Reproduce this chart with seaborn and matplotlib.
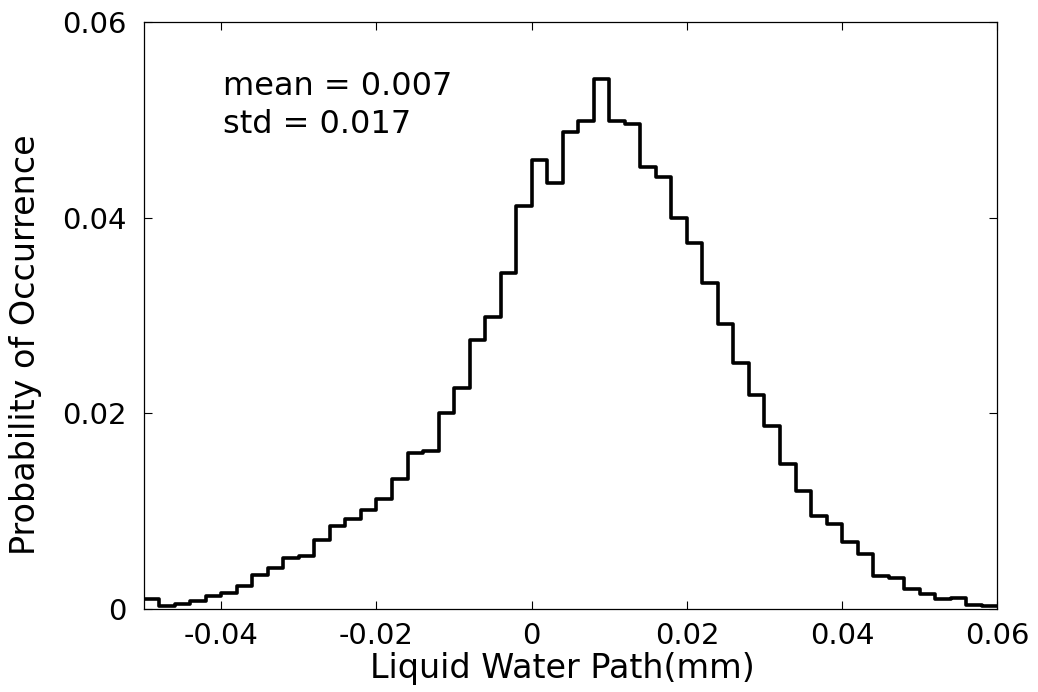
import numpy as np
import pandas as pd
import matplotlib
matplotlib.use("Agg")
import matplotlib.pyplot as plt
import seaborn as sns

# Bin edges (width 0.002) from -0.05 to 0.06
bin_start = -0.05
bin_width = 0.002
probabilities = [
    0.0010, 0.0003, 0.0005, 0.0008, 0.0013, 0.0016, 0.0024, 0.0035, 0.0042, 0.0052,
    0.0054, 0.0071, 0.0085, 0.0092, 0.0101, 0.0112, 0.0133, 0.0159, 0.0162, 0.0200,
    0.0226, 0.0275, 0.0298, 0.0343, 0.0412, 0.0459, 0.0435, 0.0488, 0.0499, 0.0542,
    0.0499, 0.0496, 0.0452, 0.0442, 0.0400, 0.0374, 0.0333, 0.0291, 0.0251, 0.0219,
    0.0187, 0.0148, 0.0121, 0.0095, 0.0087, 0.0069, 0.0056, 0.0034, 0.0032, 0.0020,
    0.0015, 0.0010, 0.0011, 0.0004, 0.0003,
]
x_ticks = [-0.04, -0.02, 0, 0.02, 0.04, 0.06]
x_tick_labels = ["-0.04", "-0.02", "0", "0.02", "0.04", "0.06"]
y_ticks = [0, 0.02, 0.04, 0.06]
y_tick_labels = ["0", "0.02", "0.04", "0.06"]
stats_text = ["mean = 0.007", "std = 0.017"]

n = len(probabilities)
edges = [bin_start + bin_width * i for i in range(n + 1)]
centers = [(edges[i] + edges[i + 1]) / 2 for i in range(n)]
df = pd.DataFrame({"lwp": centers, "prob": probabilities})

sns.set_style("white")
plt.rcParams["font.family"] = ["DejaVu Sans"]
plt.rcParams["text.color"] = "black"
plt.rcParams["axes.labelcolor"] = "black"

fig = plt.figure(figsize=(10.38, 6.92), dpi=100)
ax = fig.add_axes([0.1384, 0.1199, 0.8224, 0.8483])

sns.histplot(data=df, x="lwp", weights="prob", bins=edges, element="step",
             fill=False, color="black", linewidth=2.6, ax=ax)

ax.set_xlim(-0.05, 0.06)
ax.set_ylim(0, 0.06)
ax.set_xticks(x_ticks)
ax.set_xticklabels(x_tick_labels)
ax.set_yticks(y_ticks)
ax.set_yticklabels(y_tick_labels)
ax.tick_params(direction="in", length=6, width=0.8, colors="black",
               labelsize=21, top=True, right=True, bottom=True, left=True)
ax.tick_params(axis="y", pad=12)
ax.tick_params(axis="x", pad=9)
for s in ax.spines.values():
    s.set_visible(True)
    s.set_color("black")
    s.set_linewidth(0.9)

ax.set_xlabel("Liquid Water Path(mm)", fontsize=24)
ax.set_ylabel("Probability of Occurrence", fontsize=24)
ax.xaxis.set_label_coords(0.4906, -0.073)
ax.yaxis.set_label_coords(-0.119, 0.451)

ax.text(-0.0398, 0.0525, stats_text[0], fontsize=23, va="baseline", ha="left")
ax.text(-0.0398, 0.0487, stats_text[1], fontsize=23, va="baseline", ha="left")

fig.savefig("out.png", dpi=100)
